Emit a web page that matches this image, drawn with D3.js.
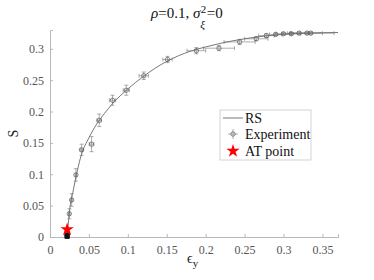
<!DOCTYPE html>
<html>
<head>
<meta charset="utf-8">
<script src="https://cdn.jsdelivr.net/npm/d3@7.9.0/dist/d3.min.js"></script>
<style>
  body { margin: 0; background: #fff; }
</style>
</head>
<body>
<svg id="chart" width="374" height="280" font-family="Liberation Serif"></svg>
<script>
// RS theory curve
const rsEps = [0.0215, 0.023, 0.025, 0.03, 0.035, 0.04, 0.05, 0.06, 0.07, 0.08, 0.1, 0.12, 0.15, 0.18, 0.2, 0.22, 0.25, 0.28, 0.3, 0.33, 0.37];
const rsS   = [0, 0.015, 0.04, 0.075, 0.105, 0.13, 0.158, 0.18, 0.197, 0.212, 0.236, 0.256, 0.28, 0.296, 0.303, 0.309, 0.316, 0.321, 0.323, 0.325, 0.326];

// experiment points with error bars
const expEps  = [0.022, 0.022, 0.0248, 0.0278, 0.0333, 0.0406, 0.0534, 0.0632, 0.0803, 0.098, 0.1205, 0.151, 0.188, 0.217, 0.2436, 0.265, 0.278, 0.29, 0.30, 0.31, 0.32, 0.33, 0.335];
const expS    = [0.001, 0.003, 0.037, 0.059, 0.099, 0.139, 0.148, 0.186, 0.218, 0.234, 0.257, 0.283, 0.297, 0.301, 0.311, 0.316, 0.321, 0.323, 0.324, 0.324, 0.325, 0.325, 0.325];
const expErrX = [0.001, 0.001, 0.001, 0.001, 0.001, 0.002, 0.003, 0.003, 0.004, 0.004, 0.006, 0.006, 0.012, 0.02, 0.02, 0.015, 0.01, 0.008, 0.01, 0.012, 0.012, 0.02, 0.03];
const expErrY = [0.001, 0.001, 0.008, 0.01, 0.01, 0.009, 0.012, 0.01, 0.008, 0.008, 0.006, 0.005, 0.005, 0.004, 0.004, 0.003, 0.003, 0.002, 0.002, 0.002, 0.002, 0.002, 0.002];

// AT point
const atEps = [0.022];
const atS   = [0.012];

const xTicks = [0, 0.05, 0.1, 0.15, 0.2, 0.25, 0.3, 0.35];
const yTicks = [0, 0.05, 0.1, 0.15, 0.2, 0.25, 0.3];

const FONT = "Liberation Serif";
const svg = d3.select("#chart");
const margin = { left: 50, right: 36, top: 30, bottom: 43 };
const width = 374, height = 280;

const x = d3.scaleLinear().domain([0, 0.37]).range([margin.left, width - margin.right]);
const y = d3.scaleLinear().domain([0, 0.33]).range([height - margin.bottom, margin.top]);

const axisColor = "#b8b8b8";
const labelColor = "#555";

// axes
const xAxis = svg.append("g")
  .attr("transform", `translate(0,${y(0)})`)
  .call(d3.axisBottom(x).tickValues(xTicks).tickSize(-3).tickPadding(8).tickFormat(d3.format("~g")));
const yAxis = svg.append("g")
  .attr("transform", `translate(${x(0)},0)`)
  .call(d3.axisLeft(y).tickValues(yTicks).tickSize(-3).tickPadding(6).tickFormat(d3.format("~g")));

[xAxis, yAxis].forEach(a => {
  a.attr("font-family", FONT).attr("font-size", 12);
  a.select(".domain").attr("stroke", axisColor);
  a.selectAll(".tick line").attr("stroke", axisColor);
  a.selectAll(".tick text").attr("fill", labelColor);
});

// RS curve
const rsData = rsEps.map((e, i) => [e, rsS[i]]);
svg.append("path")
  .datum(rsData)
  .attr("fill", "none")
  .attr("stroke", "#555")
  .attr("stroke-width", 0.8)
  .attr("d", d3.line().x(d => x(d[0])).y(d => y(d[1])).curve(d3.curveMonotoneX));

// experiment points
const expData = expEps.map((e, i) => ({ e, s: expS[i], ex: expErrX[i], ey: expErrY[i] }));
const errColor = "#777";
const g = svg.append("g").attr("stroke", errColor).attr("stroke-width", 0.6);
expData.forEach(d => {
  const cap = 2;
  const cx = x(d.e), cy = y(d.s);
  const segs = [
    [x(d.e - d.ex), cy, x(d.e + d.ex), cy],
    [x(d.e - d.ex), cy - cap, x(d.e - d.ex), cy + cap],
    [x(d.e + d.ex), cy - cap, x(d.e + d.ex), cy + cap],
    [cx, y(d.s - d.ey), cx, y(d.s + d.ey)],
    [cx - cap, y(d.s - d.ey), cx + cap, y(d.s - d.ey)],
    [cx - cap, y(d.s + d.ey), cx + cap, y(d.s + d.ey)]
  ];
  segs.forEach(s => g.append("line").attr("x1", s[0]).attr("y1", s[1]).attr("x2", s[2]).attr("y2", s[3]));
});
svg.append("g").selectAll("circle")
  .data(expData)
  .join("circle")
  .attr("cx", d => x(d.e))
  .attr("cy", d => y(d.s))
  .attr("r", 2.2)
  .attr("fill", "none")
  .attr("stroke", "#555")
  .attr("stroke-width", 0.7);

// black squares at the bottom
svg.append("g").selectAll("rect")
  .data(expData.filter(d => d.s < 0.01))
  .join("rect")
  .attr("x", d => x(d.e) - 2.5)
  .attr("y", d => y(d.s) - 2.5)
  .attr("width", 5).attr("height", 5)
  .attr("fill", "#111");

// AT point star
const star = d3.symbol().type(d3.symbolStar).size(55);
svg.selectAll(".at")
  .data(atEps.map((e, i) => [e, atS[i]]))
  .join("path")
  .attr("class", "at")
  .attr("transform", d => `translate(${x(d[0])},${y(d[1])})`)
  .attr("d", star)
  .attr("fill", "red");

// title
const title = svg.append("text")
  .attr("x", 151).attr("y", 18)
  .attr("font-size", 15).attr("fill", "#111");
title.append("tspan").attr("font-style", "italic").text("ρ");
title.append("tspan").text("=0.1, ");
title.append("tspan").attr("font-style", "italic").text("σ");
const sigEnd = title.node().getComputedTextLength() + 151;
svg.append("text").attr("x", sigEnd + 0.5).attr("y", 13).attr("font-size", 11).attr("fill", "#111").text("2");
svg.append("text").attr("x", sigEnd).attr("y", 28).attr("font-size", 11).attr("font-style", "italic").attr("fill", "#111").text("ξ");
svg.append("text").attr("x", sigEnd + 6.5).attr("y", 18).attr("font-size", 15).attr("fill", "#111").text("=0");

// axis labels
svg.append("text")
  .attr("transform", `translate(18,${(y(0) + y(0.33)) / 2}) rotate(-90)`)
  .attr("text-anchor", "middle")
  .attr("font-size", 14).attr("fill", "#222")
  .text("S");
const xl = svg.append("text")
  .attr("x", 187).attr("y", 263)
  .attr("font-size", 14).attr("fill", "#222");
xl.append("tspan").text("ϵ");
xl.append("tspan").attr("dy", 4).attr("font-size", 11).text("y");

// legend
const lg = svg.append("g").attr("transform", "translate(220,110)");
lg.append("rect").attr("width", 91).attr("height", 50)
  .attr("fill", "#fff").attr("stroke", "#c8c8c8").attr("stroke-width", 0.8);
lg.append("line").attr("x1", 3).attr("x2", 23).attr("y1", 8).attr("y2", 8)
  .attr("stroke", "#555").attr("stroke-width", 0.8);
const ly = 24;
lg.append("line").attr("x1", 13).attr("x2", 13).attr("y1", ly - 5).attr("y2", ly + 5).attr("stroke", errColor).attr("stroke-width", 0.6);
lg.append("line").attr("x1", 8).attr("x2", 18).attr("y1", ly).attr("y2", ly).attr("stroke", errColor).attr("stroke-width", 0.6);
lg.append("circle").attr("cx", 13).attr("cy", ly).attr("r", 2.2).attr("fill", "none").attr("stroke", "#555").attr("stroke-width", 0.7);
lg.append("path").attr("transform", "translate(13,41)").attr("d", star).attr("fill", "red");
const legendLabels = ["RS", "Experiment", "AT point"];
lg.selectAll(".lt")
  .data(legendLabels)
  .join("text")
  .attr("class", "lt")
  .attr("x", 25)
  .attr("y", (d, i) => 12.5 + i * 16.5)
  .attr("font-size", 14).attr("fill", "#111")
  .text(d => d);
</script>
</body>
</html>
